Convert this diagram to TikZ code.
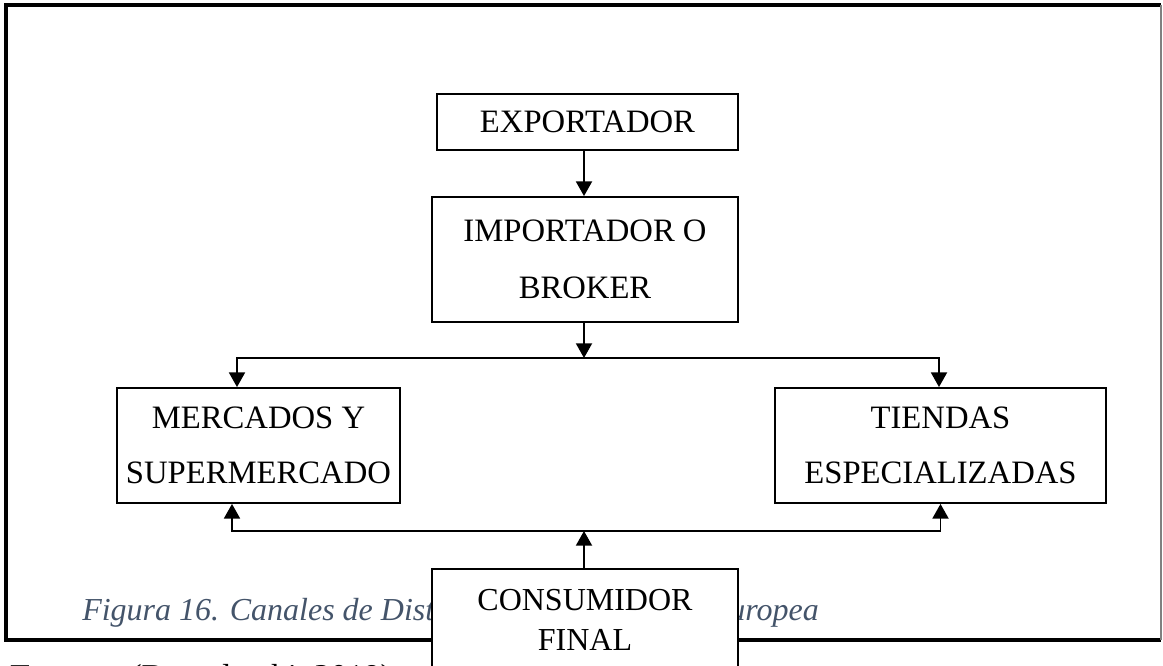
\documentclass[tikz,border=0pt]{standalone}
\usepackage{fontspec}
\setmainfont{Liberation Serif}
\usetikzlibrary{arrows.meta,calc}
\definecolor{capblue}{HTML}{44546A}
\begin{document}
\begin{tikzpicture}[x=0.75pt,y=-0.75pt,
  box/.style={draw, line width=1.4pt, fill=white, inner sep=0pt, align=center},
  conn/.style={line width=1.4pt, -{Triangle[length=11pt,width=12pt]}},
  boxfont/.style={font=\fontsize{24.5}{#1}\selectfont}]
\useasboundingbox (0,0) rectangle (1163,666);
\clip (0,0) rectangle (1163,666);
% frame
\draw[line width=2.4pt] (1161,5) -- (6,5) -- (6,640) -- (1161,640);
\draw[gray, line width=1pt] (1161,5) -- (1161,640);
% caption and source (partly hidden)
\node[anchor=base west, inner sep=0pt, font=\fontsize{24}{30}\selectfont\itshape, text=capblue] (cap) at (82,620) {Figura 16. Canales de Distribución en la Unión Europea};
\node[anchor=base west, inner sep=0pt, font=\fontsize{25}{30}\selectfont] (src) at (10,687) {\textbf{Fuente:} (Boundarchi, 2019)};
% boxes
\node[box, boxfont=28, minimum width=225.75pt, minimum height=42pt] (exp) at (587.5,122) {EXPORTADOR};
\node[box, boxfont=42.75, minimum width=229.5pt, minimum height=93.75pt] (imp) at (585,259.5) {IMPORTADOR O\\BROKER};
\node[box, boxfont=41.25, minimum width=212.25pt, minimum height=86.25pt] (merc) at (258.5,445.5) {MERCADOS Y\\SUPERMERCADO};
\node[box, boxfont=41.25, minimum width=248.25pt, minimum height=86.25pt] (tien) at (940.5,445.5) {TIENDAS\\ESPECIALIZADAS};
\node[box, font=\fontsize{24}{30}\selectfont, minimum width=229.5pt, minimum height=76.5pt] (cons) at (585,620) {CONSUMIDOR\\FINAL};
% connectors
\coordinate (split) at (584,358);
\coordinate (join) at (584,531);
\draw[conn] (exp.south -| split) -- (imp.north -| split);
\draw[conn] (imp.south -| split) -- (split);
\draw[conn] (split) -| ($(merc.north)+(-21.5,0)$);
\draw[conn] (split) -| ($(tien.north)+(-1.5,0)$);
\draw[conn] (cons.north -| join) -- (join);
\draw[conn] (join) -| ($(merc.south)+(-26.5,0)$);
\draw[conn] (join) -| (tien.south);
\end{tikzpicture}
\end{document}
